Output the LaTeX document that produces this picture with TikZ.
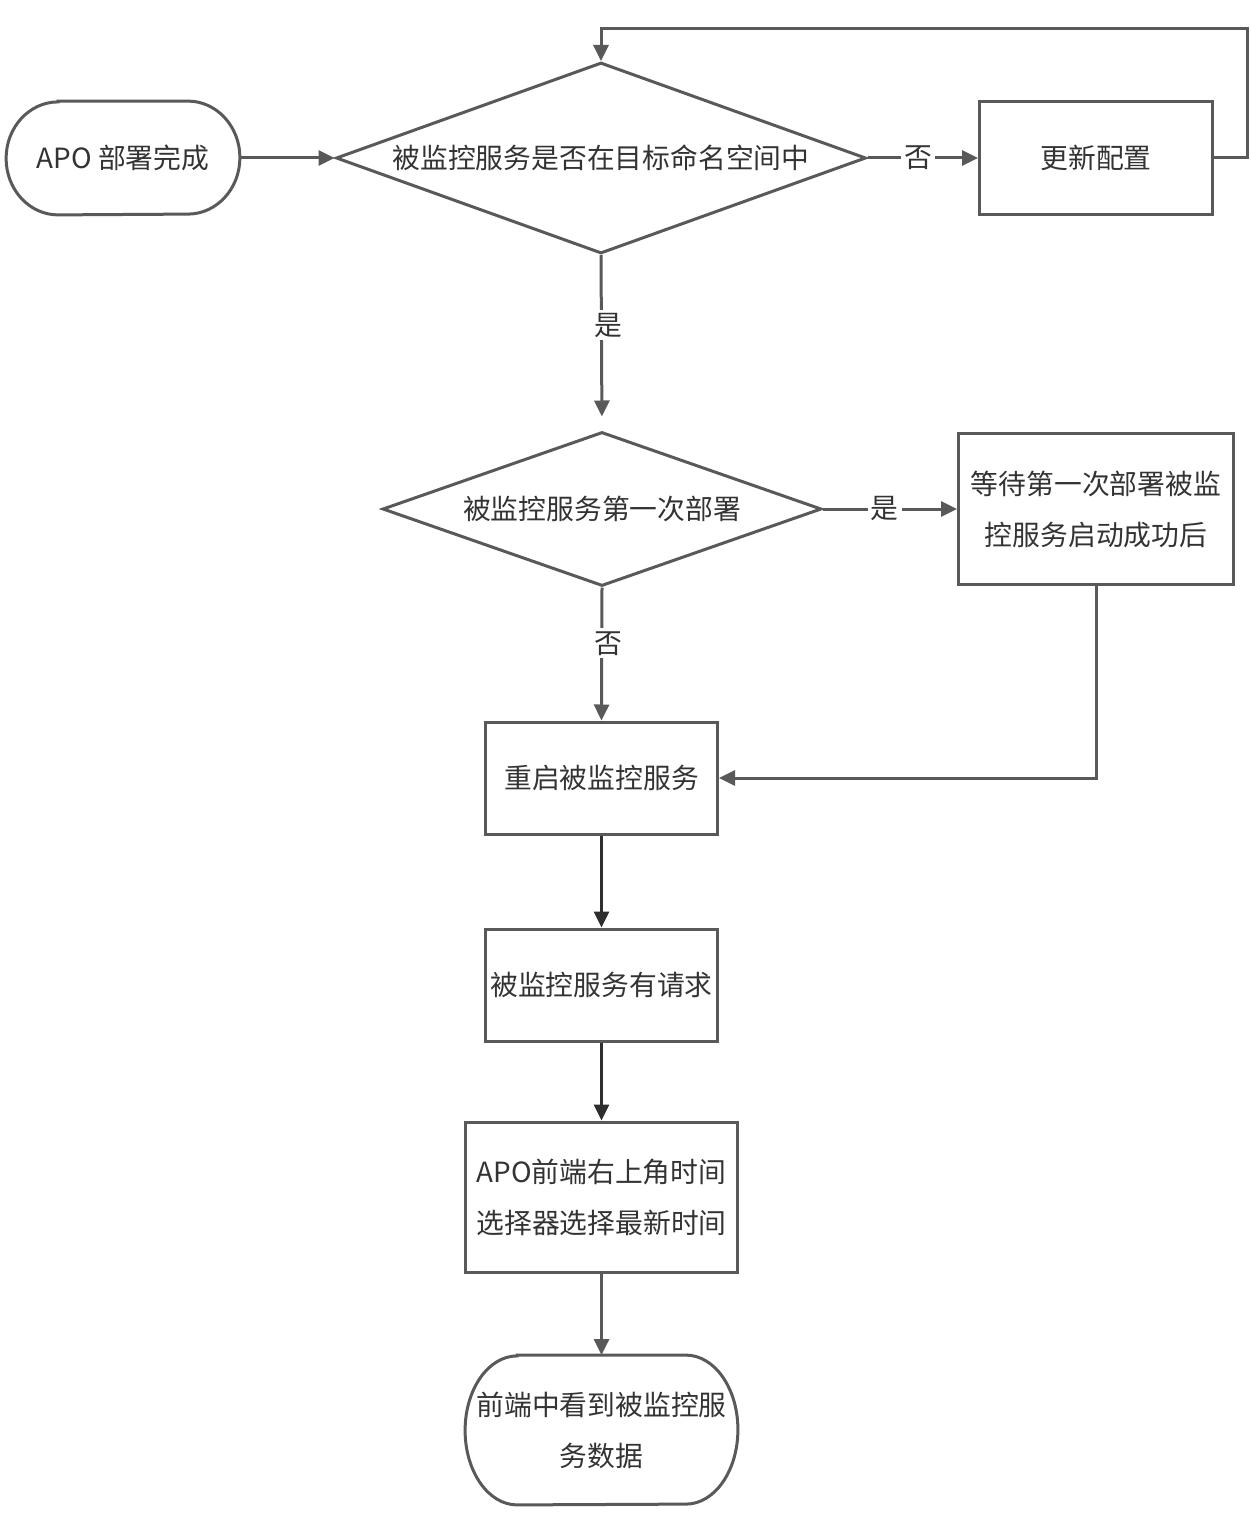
\documentclass[tikz,border=0pt]{standalone}
\usepackage{fontspec}
\newfontfamily\cjk{Noto Sans CJK SC}
\usetikzlibrary{shapes.geometric,arrows.meta}
\definecolor{linec}{HTML}{595959}
\definecolor{darkc}{HTML}{2E2E2E}
\definecolor{textc}{HTML}{333333}
\begin{document}
\begin{tikzpicture}[x=0.5pt,y=-0.5pt,
  txt/.style={font=\cjk\fontsize{13.9}{25.5}\selectfont, text=textc, align=center, inner sep=0pt},
  boxn/.style={txt, draw=linec, line width=1.5pt, rectangle},
  dia/.style={draw=linec, line width=1.5pt, diamond, inner sep=0pt},
  ghost/.style={txt, rectangle},
  arr/.style={draw=linec, line width=1.5pt, -{Triangle[length=8pt,width=7.5pt]}},
  darr/.style={draw=darkc, line width=1.5pt, -{Triangle[length=8pt,width=7.5pt]}},
  lbl/.style={txt, fill=white, inner sep=1.5pt}
]
\useasboundingbox (0,0) rectangle (1251,1514);
% start terminal
\node[ghost, minimum width=116.5pt, minimum height=56.5pt] (start) at (123,158) {APO 部署完成};
\draw[linec, line width=1.5pt] ([xshift=26pt]start.north west) -- ([xshift=-26pt]start.north east)
  arc[start angle=90,end angle=-90,x radius=26pt,y radius=28.25pt]
  -- ([xshift=26pt]start.south west)
  arc[start angle=270,end angle=90,x radius=26pt,y radius=28.25pt] -- cycle;
% decision 1
\node[dia, minimum width=265pt, minimum height=95.5pt] (d1) at (601,158) {};
\node[txt] (d1t) at (601,158) {被监控服务是否在目标命名空间中};
% update config
\node[boxn, minimum width=116.5pt, minimum height=56.5pt] (upd) at (1096,158) {更新配置};
% decision 2
\node[dia, minimum width=219.5pt, minimum height=77pt] (d2) at (602,509) {};
\node[txt] (d2t) at (602,509) {被监控服务第一次部署};
% wait box
\node[boxn, minimum width=137.5pt, minimum height=75.5pt] (wait) at (1096,509) {等待第一次部署被监\\控服务启动成功后};
% restart
\node[boxn, minimum width=116pt, minimum height=56pt] (restart) at (601.5,778) {重启被监控服务};
% request
\node[boxn, minimum width=116pt, minimum height=56pt] (req) at (601.5,985) {被监控服务有请求};
% frontend
\node[boxn, minimum width=136pt, minimum height=75pt] (fe) at (601.5,1197) {APO前端右上角时间\\选择器选择最新时间};
% end terminal
\node[ghost, minimum width=136pt, minimum height=74.5pt] (fin) at (601.5,1430) {前端中看到被监控服\\务数据};
\draw[linec, line width=1.5pt] ([xshift=26pt]fin.north west) -- ([xshift=-26pt]fin.north east)
  arc[start angle=90,end angle=-90,x radius=26pt,y radius=37.25pt]
  -- ([xshift=26pt]fin.south west)
  arc[start angle=270,end angle=90,x radius=26pt,y radius=37.25pt] -- cycle;
% coordinates for loop
\coordinate (lr) at (1247,29);
\coordinate (ll) at (601,29);
% connectors
\draw[arr] (start.east) -- (d1.west);
\draw[arr] (d1.east) -- node[lbl, pos=0.46] {否} (upd.west);
\draw[arr] (upd.east) -| (lr) -- (ll) -- (d1.north);
\draw[arr, shorten >=7pt] (d1.south) -- node[lbl, xshift=3.5pt, pos=0.4] {是} (d2.north);
\draw[arr] (d2.east) -- node[lbl, pos=0.46] {是} (wait.west);
\draw[arr] (d2.south) -- node[lbl, xshift=3.5pt, pos=0.42] {否} (restart.north);
\draw[arr] (wait.south) |- (restart.east);
\draw[darr] (restart.south) -- (req.north);
\draw[darr] (req.south) -- (fe.north);
\draw[arr] (fe.south) -- (fin.north);
\end{tikzpicture}
\end{document}
